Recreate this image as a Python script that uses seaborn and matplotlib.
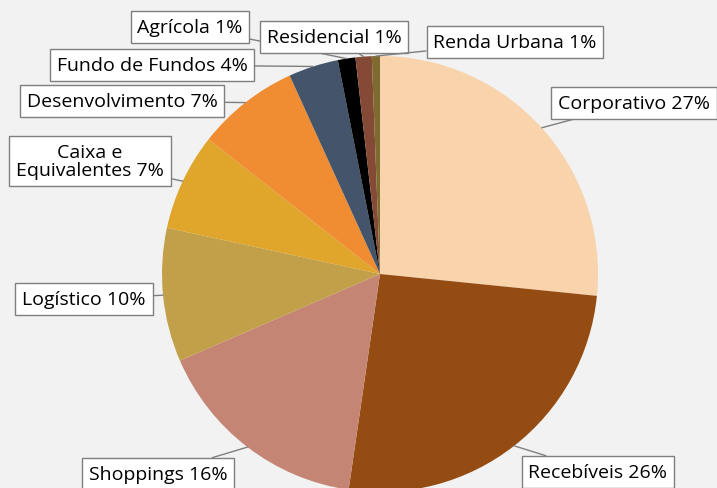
import numpy as np
import matplotlib
matplotlib.use("Agg")
import matplotlib.pyplot as plt
import seaborn as sns

# segment shares (%), clockwise from 12 o'clock
segments = ["Corporativo", "Recebíveis", "Shoppings", "Logístico", "Caixa e\nEquivalentes",
            "Desenvolvimento", "Fundo de Fundos", "Agrícola", "Residencial", "Renda Urbana"]
shares = [26.6, 25.7, 16.2, 9.9, 7.2, 7.6, 3.7, 1.3, 1.2, 0.6]
pct_labels = ["27%", "26%", "16%", "10%", "7%", "7%", "4%", "1%", "1%", "1%"]
colors = ["#F8D3AC", "#944C12", "#C48574", "#C2A04A", "#E0A52B",
          "#F08C32", "#44546A", "#000000", "#844A36", "#7F6A30"]

# label box centres in pixel coords (from top-left)
label_pos = [(634, 104), (598, 473), (158, 475), (84, 300), (90, 162),
             (122, 102), (152, 66), (190, 28), (334, 38), (515, 43)]

sns.set_style("white", {"axes.facecolor": "#F2F2F2", "figure.facecolor": "#F2F2F2"})
plt.rcParams["font.family"] = ["Open Sans", "DejaVu Sans"]

W, H = 717, 489
fig = plt.figure(figsize=(W / 100, H / 100), dpi=100)
ax = fig.add_axes([0, 0, 1, 1])

cx, cy, r = 380, H - 275, 218
wedges, _ = ax.pie(shares, colors=colors, startangle=90, counterclock=False,
                   center=(cx, cy), radius=r,
                   wedgeprops={"linewidth": 0})
ax.set_xlim(0, W)
ax.set_ylim(0, H)
ax.set_aspect("equal")
ax.axis("off")

for w, name, pct, (px, py) in zip(wedges, segments, pct_labels, label_pos):
    ang = np.deg2rad((w.theta1 + w.theta2) / 2)
    ex, ey = cx + r * np.cos(ang), cy + r * np.sin(ang)
    ax.annotate(f"{name} {pct}", xy=(ex, ey), xytext=(px, H - py),
                ha="center", va="center", fontsize=14, color="black",
                fontweight="medium", linespacing=1.0,
                bbox=dict(boxstyle="square,pad=0.35", fc="white", ec="#7F7F7F", lw=1),
                arrowprops=dict(arrowstyle="-", color="#7F7F7F", lw=1,
                                shrinkA=0, shrinkB=0))

fig.savefig("out.png", dpi=100, facecolor=fig.get_facecolor())
